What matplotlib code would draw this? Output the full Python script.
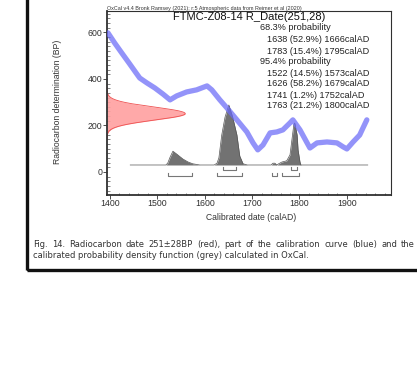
import numpy as np
import matplotlib
matplotlib.use("Agg")
import matplotlib.pyplot as plt
from matplotlib.patches import Rectangle
from matplotlib.ticker import MultipleLocator

# ---------------- data ----------------
cal_years = [1396, 1410, 1425, 1442, 1457, 1463, 1478, 1495, 1512, 1527, 1541, 1562,
             1583, 1605, 1615, 1632, 1647, 1668, 1689, 1702, 1712, 1723, 1738, 1752,
             1765, 1780, 1786, 1801, 1816, 1822, 1837, 1858, 1879, 1892, 1900, 1913,
             1927, 1932, 1942]
cal_bp = [598, 555, 512, 464, 421, 404, 383, 361, 335, 310, 327, 344,
          353, 370, 353, 310, 275, 224, 172, 125, 95, 116, 168, 172,
          181, 211, 224, 181, 125, 103, 125, 129, 125, 108, 99, 129,
          159, 181, 224]

pdf_years = [1443, 1518, 1522, 1527, 1533, 1543, 1554, 1565, 1575, 1590, 1620, 1626,
             1630, 1636, 1643, 1651, 1659, 1668, 1674, 1681, 1690, 1740, 1744, 1748,
             1752, 1756, 1763, 1773, 1780, 1784, 1788, 1790, 1795, 1797, 1801, 1803,
             1810, 1944]
pdf_prob = [0, 0, 0.03, 0.13, 0.23, 0.17, 0.10, 0.05, 0.02, 0, 0, 0.03,
            0.12, 0.50, 0.80, 1.0, 0.80, 0.50, 0.15, 0.02, 0, 0, 0.03, 0.03,
            0, 0.02, 0.05, 0.07, 0.17, 0.42, 0.67, 0.70, 0.50, 0.25, 0.05, 0,
            0, 0]

r_mean = 251
r_sd = 28

range68 = [(1638, 1666), (1783, 1795)]
range95 = [(1522, 1573), (1626, 1679), (1741, 1752), (1763, 1800)]

legend_lines = ["68.3% probability",
                "1638 (52.9%) 1666calAD",
                "1783 (15.4%) 1795calAD",
                "95.4% probability",
                "1522 (14.5%) 1573calAD",
                "1626 (58.2%) 1679calAD",
                "1741 (1.2%) 1752calAD",
                "1763 (21.2%) 1800calAD"]

title = "FTMC-Z08-14 R_Date(251,28)"
header = "OxCal v4.4 Bronk Ramsey (2021); r:5 Atmospheric data from Reimer et al (2020)"
xlabel = "Calibrated date (calAD)"
ylabel = "Radiocarbon determination (BP)"
xticks = [1400, 1500, 1600, 1700, 1800, 1900]
yticks = [0, 200, 400, 600]
caption1 = "Fig. 14. Radiocarbon date 251\u00b128BP (red), part of the calibration curve (blue) and the"
caption2 = "calibrated probability density function (grey) calculated in OxCal."

# ---------------- layout ----------------
W, H = 417, 374
fig = plt.figure(figsize=(W / 100, H / 100), dpi=100)
plt.rcParams['font.family'] = ['Liberation Sans', 'DejaVu Sans']


def fx(x):
    return x / W


def fy(y):
    return 1 - y / H


ax_l, ax_r, ax_t, ax_b = 107, 391, 11, 195
ax = fig.add_axes([fx(ax_l), fy(ax_b), (ax_r - ax_l) / W, (ax_b - ax_t) / H])
ax.set_xlim(1394, 1993)
ax.set_ylim(-99, 692)

# red radiocarbon date
bp = np.linspace(r_mean - 4 * r_sd, r_mean + 4 * r_sd, 200)
dens = np.exp(-0.5 * ((bp - r_mean) / r_sd) ** 2)
x0 = 1394
red_amp = 165
ax.fill_betweenx(bp, x0, x0 + red_amp * dens, color='#ffa0a0', alpha=0.9, lw=0, zorder=2)
ax.plot(x0 + red_amp * dens, bp, color='#ee5050', lw=0.6, zorder=2)

# grey calibrated pdf
base = 30
gscale = 258
gy = base + gscale * np.array(pdf_prob)
ax.fill_between(pdf_years, base, gy, color='#727272', lw=0, zorder=3)
ax.plot(pdf_years, gy, color='#555555', lw=0.5, zorder=3)

# calibration curve band
ax.plot(cal_years, cal_bp, color='#6a6af8', lw=3.8, alpha=0.72,
        solid_capstyle='round', solid_joinstyle='round', zorder=4)

# ranges brackets
def bracket(lo, hi, y, h=11):
    ax.plot([lo, lo, hi, hi], [y + h, y, y, y + h], color='#777777', lw=0.8, zorder=3)

for lo, hi in range68:
    bracket(lo, hi, 9)
for lo, hi in range95:
    bracket(lo, hi, -17)

# axes styling
for s in ax.spines.values():
    s.set_color('#303030')
    s.set_linewidth(0.8)
ax.spines['left'].set_linewidth(1.3)
ax.spines['bottom'].set_linewidth(1.3)
ax.set_xticks(xticks)
ax.set_yticks(yticks)
ax.xaxis.set_minor_locator(MultipleLocator(20))
ax.yaxis.set_minor_locator(MultipleLocator(20))
ax.tick_params(axis='both', which='major', labelsize=6.3, length=3, width=0.6,
               direction='out', pad=0.5, colors='#303030')
ax.tick_params(axis='both', which='minor', length=1.8, width=0.5, direction='in',
               colors='#505050')
ax.tick_params(axis='x', which='major', pad=0.2)

fig.text(fx(251), fy(217), xlabel, ha='center', va='center', fontsize=6.2, color='#333333')
fig.text(fx(57), fy(102), ylabel, ha='center', va='center', fontsize=6.2,
         rotation=90, color='#333333')

ax.text(0.0, 1.0, header, transform=ax.transAxes, ha='left', va='bottom',
        fontsize=3.9, color='#333333')
fig.text(fx(249), fy(17), title, ha='center', va='center', fontsize=8, color='#111111')

leg_y = [28, 40, 51, 62, 73, 84, 95, 106]
for i, (t, yy) in enumerate(zip(legend_lines, leg_y)):
    xx = 260 if 'probability' in t else 267
    fig.text(fx(xx), fy(yy), t, ha='left', va='center', fontsize=6.6, color='#222222')

# outer document frame
fig.patches.append(Rectangle((fx(27), fy(270)), 1.2, 1.2, transform=fig.transFigure,
                             fill=False, ec='#111111', lw=2.4, zorder=10))

# caption (line 1 justified)
cap_fs = 6.0
fig.canvas.draw()
renderer = fig.canvas.get_renderer()
words = caption1.split(' ')
tobjs = [fig.text(0, fy(245), w, fontsize=cap_fs, va='center', ha='left',
                  color='#333333', family='DejaVu Sans') for w in words]
widths = [t.get_window_extent(renderer).width for t in tobjs]
left, right = 33, 415
gap = (right - left - sum(widths)) / (len(words) - 1)
xpos = left
for t, w in zip(tobjs, widths):
    t.set_x(fx(xpos))
    xpos += w + gap
fig.text(fx(33), fy(255), caption2, fontsize=cap_fs, va='center', ha='left',
         color='#333333', family='DejaVu Sans')

fig.savefig('out.png', dpi=100)
